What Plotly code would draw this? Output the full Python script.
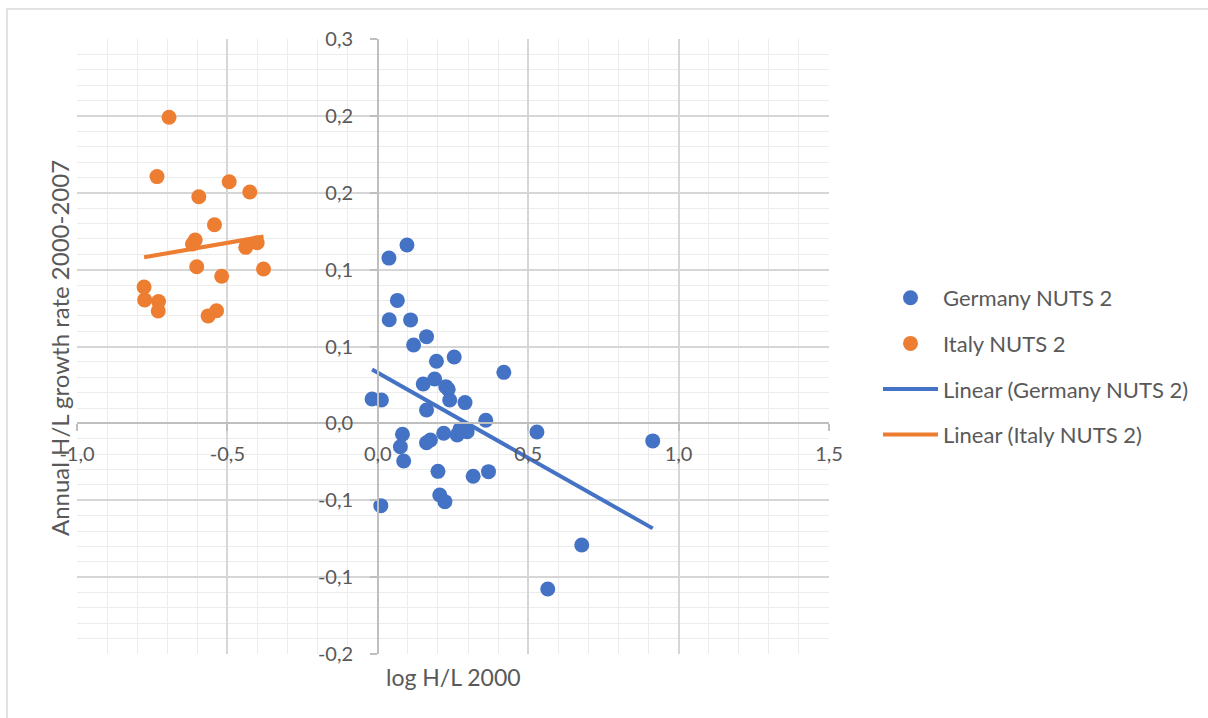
import numpy as np
import plotly.graph_objects as go

# ---------------- data ----------------
germany_x = [0.097, 0.037, 0.065, 0.038, 0.109, 0.162, 0.119, 0.254, 0.195, 0.419,
             0.189, 0.151, 0.226, 0.234, 0.239, 0.290, -0.019, 0.012, 0.162, 0.359,
             0.082, 0.273, 0.297, 0.264, 0.219, 0.175, 0.162, 0.075, 0.086, 0.200,
             0.368, 0.317, 0.206, 0.223, 0.010, 0.529, 0.914, 0.678, 0.565]
germany_y = [0.116, 0.1075, 0.080, 0.0674, 0.0673, 0.0564, 0.051, 0.0432, 0.0404, 0.0332,
             0.0289, 0.0256, 0.0239, 0.0222, 0.0152, 0.0135, 0.0159, 0.0152, 0.0087, 0.002,
             -0.0071, -0.0038, -0.0054, -0.0075, -0.0064, -0.0108, -0.0126, -0.0152, -0.0245, -0.0312,
             -0.0314, -0.0344, -0.0466, -0.0509, -0.0535, -0.0056, -0.0114, -0.0791, -0.1077]

italy_x = [-0.694, -0.734, -0.595, -0.494, -0.4255, -0.543, -0.607, -0.616, -0.401, -0.439,
           -0.602, -0.380, -0.519, -0.777, -0.775, -0.729, -0.730, -0.536, -0.564]
italy_y = [0.1991, 0.1605, 0.1474, 0.1572, 0.1505, 0.1292, 0.1193, 0.1167, 0.1175, 0.1145,
           0.1019, 0.1004, 0.0957, 0.0887, 0.0803, 0.0792, 0.0731, 0.0733, 0.0699]

series_names = ["Germany NUTS 2", "Italy NUTS 2", "Linear (Germany NUTS 2)", "Linear (Italy NUTS 2)"]

x_ticks = [-1.0, -0.5, 0.0, 0.5, 1.0, 1.5]
x_tick_labels = ["-1,0", "-0,5", "0,0", "0,5", "1,0", "1,5"]
y_ticks = [-0.15, -0.10, -0.05, 0.0, 0.05, 0.10, 0.15, 0.20, 0.25]
y_tick_labels = ["-0,2", "-0,1", "-0,1", "0,0", "0,1", "0,1", "0,2", "0,2", "0,3"]

x_title = "log H/L 2000"
y_title = "Annual H/L growth rate 2000-2007"

# ---------------- styling ----------------
BLUE = "#4472C4"
ORANGE = "#ED7D31"
TEXT = "#595959"
FONT = "Lato"
MAJOR = "#d6d6d6"
MINOR = "#ececec"

X_RANGE = [-1.0, 1.5]
Y_RANGE = [-0.15, 0.25]


def trend(xs, ys):
    xs = np.asarray(xs)
    ys = np.asarray(ys)
    k, b = np.polyfit(xs, ys, 1)
    xx = np.array([xs.min(), xs.max()])
    return xx, k * xx + b


gtx, gty = trend(germany_x, germany_y)
itx, ity = trend(italy_x, italy_y)

fig = go.Figure()
fig.add_trace(go.Scatter(x=germany_x, y=germany_y, mode="markers", name=series_names[0],
                         legendgroup="g1",
                         marker=dict(color=BLUE, size=15, line=dict(width=0))))
fig.add_trace(go.Scatter(x=italy_x, y=italy_y, mode="markers", name=series_names[1],
                         legendgroup="g2",
                         marker=dict(color=ORANGE, size=15, line=dict(width=0))))
fig.add_trace(go.Scatter(x=gtx, y=gty, mode="lines", name=series_names[2],
                         legendgroup="g3",
                         line=dict(color=BLUE, width=4)))
fig.add_trace(go.Scatter(x=itx, y=ity, mode="lines", name=series_names[3],
                         legendgroup="g4",
                         line=dict(color=ORANGE, width=4)))

L, R, T, B = 77, 829, 39, 654
W, H = 1208, 718
pw, ph = R - L, B - T


def px(xp):
    return (xp - L) / pw


def py(yp):
    return (B - yp) / ph


x_pos = (0 - Y_RANGE[0]) / (Y_RANGE[1] - Y_RANGE[0])
y_pos = (0 - X_RANGE[0]) / (X_RANGE[1] - X_RANGE[0])

fig.update_layout(
    width=W, height=H,
    margin=dict(l=L, r=W - R, t=T, b=H - B),
    paper_bgcolor="white", plot_bgcolor="white",
    font=dict(family=FONT, color=TEXT, size=20),
    showlegend=True,
    legend=dict(x=px(878), y=py(366.5), xanchor="left", yanchor="middle",
                font=dict(family=FONT, size=22, color=TEXT),
                itemwidth=55,
                tracegroupgap=14, bgcolor="rgba(0,0,0,0)"),
    xaxis=dict(range=X_RANGE, domain=[0, 1], anchor="free", position=x_pos,
               tickmode="array", tickvals=x_ticks, ticktext=x_tick_labels,
               showgrid=True, gridcolor=MAJOR, gridwidth=1.5,
               minor=dict(dtick=0.1, tick0=0, showgrid=True, gridcolor=MINOR, gridwidth=1.3),
               showline=True, linecolor="#bfbfbf", linewidth=1.5,
               ticks="outside", ticklen=7, tickcolor="#bfbfbf", tickwidth=1.5,
               ticklabelstandoff=6,
               zeroline=False, tickfont=dict(size=20, color=TEXT)),
    yaxis=dict(range=Y_RANGE, domain=[0, 1], anchor="free", position=y_pos,
               tickmode="array", tickvals=y_ticks, ticktext=y_tick_labels,
               showgrid=True, gridcolor=MAJOR, gridwidth=1.5,
               minor=dict(dtick=0.01, tick0=0, showgrid=True, gridcolor=MINOR, gridwidth=1.3),
               showline=True, linecolor="#bfbfbf", linewidth=1.5,
               ticks="outside", ticklen=7, tickcolor="#bfbfbf", tickwidth=1.5,
               ticklabelstandoff=13,
               zeroline=False, tickfont=dict(size=20, color=TEXT)),
    annotations=[
        dict(text=x_title, xref="paper", yref="paper", x=px(453), y=py(677),
             xanchor="center", yanchor="middle", showarrow=False,
             font=dict(family=FONT, size=23, color=TEXT)),
        dict(text=y_title, xref="paper", yref="paper", x=px(59), y=py(348),
             xanchor="center", yanchor="middle", showarrow=False, textangle=-90,
             font=dict(family=FONT, size=24, color=TEXT)),
    ],
    shapes=[
        dict(type="rect", xref="paper", yref="paper",
             x0=px(7), x1=px(1230), y0=py(9), y1=py(740),
             line=dict(color="#d9d9d9", width=1.5), fillcolor="rgba(0,0,0,0)", layer="below"),
    ],
)

fig.write_html("out.html")
